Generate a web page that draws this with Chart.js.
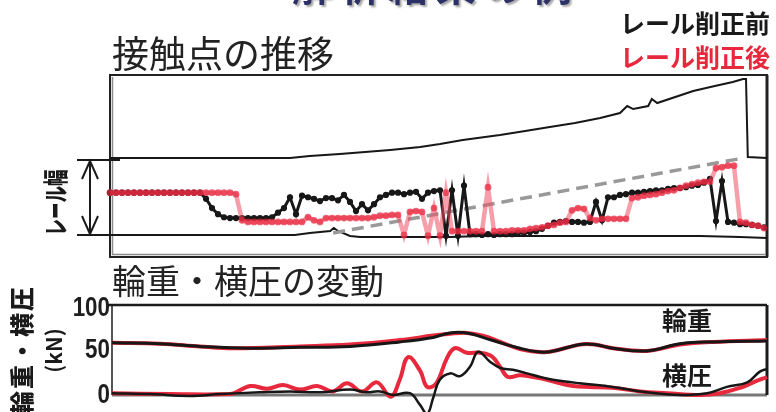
<!DOCTYPE html>
<html><head><meta charset="utf-8">
<script src="https://cdn.jsdelivr.net/npm/chart.js@4"></script>
<style>
html,body{margin:0;padding:0;background:#fff;}
#wrap{position:relative;width:776px;height:412px;overflow:hidden;background:#fff;font-family:'Noto Sans CJK JP','Noto Sans',sans-serif;}
canvas{position:absolute;left:0;top:0;}
.t{position:absolute;white-space:nowrap;line-height:1;}
.rot{text-align:center;}
</style></head>
<body><div id="wrap">
<canvas id="topChart" width="776" height="412"></canvas>
<canvas id="botChart" width="776" height="412"></canvas>
<div class="t" style="left:292px;top:-36px;font-size:40px;font-weight:700;color:#2b3066;letter-spacing:8px;text-shadow:2px 2px 2px rgba(0,0,0,.35)">解析結果の例</div>
<div class="t" style="left:112px;top:34px;font-size:37px;color:#222">接触点の推移</div>
<div class="t" style="right:6px;top:10px;font-size:25px;font-weight:700;color:#1a1a1a">レール削正前</div>
<div class="t" style="right:6px;top:44px;font-size:25px;font-weight:700;color:#e8283c">レール削正後</div>
<div class="t rot" style="left:4px;top:190px;width:100px;font-size:25px;font-weight:900;color:#1a1a1a;transform:rotate(-90deg) scaleX(.66)">レール幅</div>
<div class="t" style="left:112px;top:263px;font-size:34px;color:#222">輪重・横圧の変動</div>
<div class="t rot" style="left:-59px;top:338px;width:160px;font-size:24px;font-weight:900;letter-spacing:2px;color:#1a1a1a;transform:rotate(-90deg)">輪重・横圧</div>
<div class="t rot" style="left:3px;top:340px;width:100px;font-size:21px;font-weight:700;color:#1a1a1a;transform:rotate(-90deg)">(kN)</div>
<div class="t" style="left:662px;top:307px;font-size:25px;font-weight:700;color:#1a1a1a">輪重</div>
<div class="t" style="left:662px;top:362px;font-size:25px;font-weight:700;color:#1a1a1a">横圧</div>
</div>
<script>
// ---------- Top panel: contact point transition (position across rail head, % of rail width) ----------
const upperRailPos = [0,30,33.3,38.3,46.7,51.7,55,58.8,65,69.2,73.3,77.5,81.7,85,86.2,87.2,89.7,90.3,91.2,97.2,100.8,103.8,105.5,106,106.3,109.5];
const upperRailVal = [100,100,102.6,105.2,110.4,114.3,118.2,123.4,129.9,135.1,140.3,145.5,151.9,158.4,167.5,163.6,167.5,176.6,171.4,187,193.5,198.7,202.6,202.6,101.3,100];
const lowerRailPos = [0,30.8,33.3,36.7,37.3,38,40,41.7,56.7,61.7,75,88.3,98.3,105,109.5];
const lowerRailVal = [0,0,2.6,5.2,9.1,5.2,-1.3,-2.6,-2.6,-1.3,-1.3,-1.3,-1.3,-2.6,-3.9];
const trendPos = [37.2,104.7];
const trendVal = [2.6,98.7];
const beforeGrinding = [
55,55,55,55,55,55,55,55,55,55,
55,55,55,55,55,55,47,35,27,23,
22,22,22,22,22,22,22,23,29,35,
49,27,51,49,47,44,48,48,45,52,
43,31,40,32,40,49,52,55,55,53,
55,56,47,55,57,58,-1,58,-1,64,
1,1,0,1,0,1,1,1,3,3,
4,5,8,12,16,17,18,17,17,16,
17,43,19,49,49,52,53,55,55,56,
57,58,58,60,61,61,62,64,65,68,
73,18,70,17,16,14,14,13,12,10];
const afterGrinding = [
55,55,55,55,55,55,55,55,55,55,
55,55,55,55,55,55,55,55,55,55,
55,53,19,17,17,17,17,17,17,17,
17,17,17,23,19,17,22,22,22,22,
22,22,22,22,23,25,25,26,26,0,
30,31,30,-1,35,-1,55,5,5,5,
5,5,5,62,5,5,5,6,6,6,
8,9,10,12,13,16,17,32,35,34,
22,19,21,21,21,21,21,48,49,51,
52,53,55,57,58,61,64,66,68,69,
69,87,88,90,90,17,16,13,12,9];

// ---------- Bottom panel: wheel load / lateral force (kN) ----------
const yTicks = [0,50,100];
const loadBlackPos = [0,8.0,14.7,23.1,31.4,39.8,48.1,53.7,56.5,59.3,62.0,64.9,68.2,71.1,73.2,78.2,80.7,83.7,89.4,95.0,100.5,109.5];
const loadBlackKN  = [58,57,54,52,53,54,59,64,69,69,64,58,52,48,48,56,56,52,49,57,59,60];
const loadRedPos   = [0,8.0,14.7,20.2,31.4,39.8,48.1,53.7,56.5,59.3,62.0,64.9,68.2,71.1,73.2,78.2,80.7,83.7,89.4,95.0,100.5,109.5];
const loadRedKN    = [58,57,54,52,54,56,61,66,68,69,66,59,51,48,48,56,56,52,49,56,59,61];
const latRedPos = [0,9.7,19.7,23.1,25.9,28.6,31.4,34.3,36.9,39.3,41.8,44.3,46.6,48.1,49.5,51.5,52.7,54.2,56.0,57.3,59.3,61.5,63.5,64.9,66.2,68.2,70.4,72.7,74.9,77.1,79.9,83.7,88.3,92.8,98.3,101.6,105.0,107.2,109.5];
const latRedKN  = [2,1,1,10,7,11,6,10,4,13,4,14,-2,17,42,27,9,13,41,52,47,47,43,31,20,22,20,17,13,10,9,8,4,2,0,2,8,14,20];
const latBlackPos = [0,6.4,13.0,18.1,24.7,29.8,34.8,39.8,42.6,44.8,47.0,49.8,51.5,52.7,53.7,54.8,56.5,58.2,59.9,61.2,63.2,64.9,67.0,69.4,71.6,73.7,78.2,83.7,89.4,95.0,99.5,102.8,106.2,108.3,109.5];
const latBlackKN  = [2,1,-1,1,3,4,3,6,3,4,0,2,-11,-21,-3,17,24,21,32,48,37,30,28,24,20,17,13,9,3,0,2,9,14,26,29];

const zip = (xs, ys) => xs.map((x, i) => ({x, y: ys[i]}));
const samplePos = beforeGrinding.map((_, i) => i);
const BLACK = '#171717', RED = '#e8283c';

const topDeco = {
  id: 'topDeco',
  beforeDatasetsDraw(chart) {
    const {ctx, chartArea: a, scales: {y}} = chart;
    ctx.save();
    ctx.strokeStyle = '#8c8c8c'; ctx.lineWidth = 1.5;
    ctx.beginPath();
    ctx.moveTo(a.left + 2.5, a.top + 2); ctx.lineTo(a.left + 2.5, a.bottom - 2.5); ctx.lineTo(a.right - 2, a.bottom - 2.5);
    ctx.stroke();
    ctx.strokeStyle = '#222'; ctx.lineWidth = 2;
    ctx.strokeRect(a.left, a.top, a.right - a.left, a.bottom - a.top);
    ctx.lineWidth = 3;
    ctx.beginPath(); ctx.moveTo(a.right, a.top); ctx.lineTo(a.right, a.bottom); ctx.stroke();
    const y1 = y.getPixelForValue(100), y0 = y.getPixelForValue(0);
    ctx.lineWidth = 2; ctx.strokeStyle = '#1a1a1a';
    ctx.beginPath();
    ctx.moveTo(77, y1 + 2); ctx.lineTo(a.left + 10, y1 + 2);
    ctx.moveTo(77, y0); ctx.lineTo(a.left + 10, y0);
    ctx.moveTo(90, y1 + 3); ctx.lineTo(90, y0 - 1);
    ctx.moveTo(82, y1 + 21); ctx.lineTo(90, y1 + 3); ctx.lineTo(98, y1 + 21);
    ctx.moveTo(82, y0 - 19); ctx.lineTo(90, y0 - 1); ctx.lineTo(98, y0 - 19);
    ctx.stroke();
    ctx.restore();
  }
};

new Chart(document.getElementById('topChart'), {
  type: 'line',
  data: {datasets: [
    {data: zip(upperRailPos, upperRailVal), borderColor: BLACK, borderWidth: 2, pointRadius: 0, order: 5},
    {data: zip(lowerRailPos, lowerRailVal), borderColor: BLACK, borderWidth: 2, pointRadius: 0, order: 5},
    {data: zip(trendPos, trendVal), borderColor: '#999', borderWidth: 3.5, borderDash: [12, 7], pointRadius: 0, order: 4},
    {data: zip(samplePos, beforeGrinding), borderColor: BLACK, borderWidth: 3, pointRadius: 3.1,
     pointBackgroundColor: BLACK, pointBorderWidth: 0, order: 2},
    {data: zip(samplePos, afterGrinding), borderColor: 'rgba(238,80,102,0.55)', borderWidth: 4.5, pointRadius: 3.4,
     pointBackgroundColor: 'rgba(232,36,60,0.7)', pointBorderWidth: 0, order: 1}
  ]},
  options: {
    responsive: false, animation: false, events: [],
    layout: {padding: {left: 110, right: 9, top: 75, bottom: 155}},
    elements: {line: {tension: 0}},
    datasets: {line: {clip: false}},
    plugins: {legend: {display: false}, tooltip: {enabled: false}},
    scales: {
      x: {type: 'linear', display: false, min: 0, max: 109.5},
      y: {type: 'linear', display: false, min: -28.6, max: 207.8}
    }
  },
  plugins: [topDeco]
});

const botDeco = {
  id: 'botDeco',
  beforeDatasetsDraw(chart) {
    const {ctx, chartArea: a, scales: {y}} = chart;
    const yt = y.getPixelForValue(100), yb = y.getPixelForValue(0);
    ctx.save();
    ctx.strokeStyle = '#777'; ctx.lineWidth = 3;
    ctx.beginPath(); ctx.moveTo(a.left, yb); ctx.lineTo(a.right, yb); ctx.stroke();
    ctx.strokeStyle = '#555'; ctx.lineWidth = 2;
    ctx.beginPath(); ctx.moveTo(a.left, yt); ctx.lineTo(a.left, yb); ctx.stroke();
    ctx.strokeStyle = '#1a1a1a'; ctx.lineWidth = 2.5;
    ctx.beginPath(); ctx.moveTo(a.left - 4, yt); ctx.lineTo(a.right, yt); ctx.stroke();
    ctx.lineWidth = 3;
    ctx.beginPath(); ctx.moveTo(a.right, yt); ctx.lineTo(a.right, yb); ctx.stroke();
    // condensed tick labels from the y scale's ticks
    ctx.font = "bold 28px 'Liberation Sans', Arial, sans-serif";
    ctx.fillStyle = '#1e1e1e'; ctx.textAlign = 'right'; ctx.textBaseline = 'middle';
    y.ticks.forEach(t => {
      let py = y.getPixelForValue(t.value);
      if (t.value === y.max) py += 3;
      ctx.save();
      ctx.translate(a.left - 2, py);
      ctx.scale(0.8, 1);
      ctx.fillText(String(t.value), 0, 0);
      ctx.restore();
    });
    ctx.restore();
  }
};

new Chart(document.getElementById('botChart'), {
  type: 'line',
  data: {datasets: [
    {data: zip(loadRedPos, loadRedKN), borderColor: RED, borderWidth: 4, order: 3},
    {data: zip(latRedPos, latRedKN), borderColor: RED, borderWidth: 4, order: 3},
    {data: zip(loadBlackPos, loadBlackKN), borderColor: BLACK, borderWidth: 3, order: 1},
    {data: zip(latBlackPos, latBlackKN), borderColor: BLACK, borderWidth: 2.5, order: 1}
  ]},
  options: {
    responsive: false, animation: false, events: [],
    layout: {padding: {left: 0, right: 9, top: 305, bottom: 17}},
    elements: {line: {tension: 0.4}, point: {radius: 0}},
    datasets: {line: {clip: false}},
    plugins: {legend: {display: false}, tooltip: {enabled: false}},
    scales: {
      x: {type: 'linear', display: false, min: 0, max: 109.5},
      y: {
        type: 'linear', min: 0, max: 100,
        afterBuildTicks(scale) { scale.ticks = yTicks.map(v => ({value: v})); },
        afterFit(scale) { scale.width = 112; },
        grid: {display: false, drawTicks: false},
        border: {display: false},
        ticks: {display: false}
      }
    }
  },
  plugins: [botDeco]
});
</script>
</body></html>
